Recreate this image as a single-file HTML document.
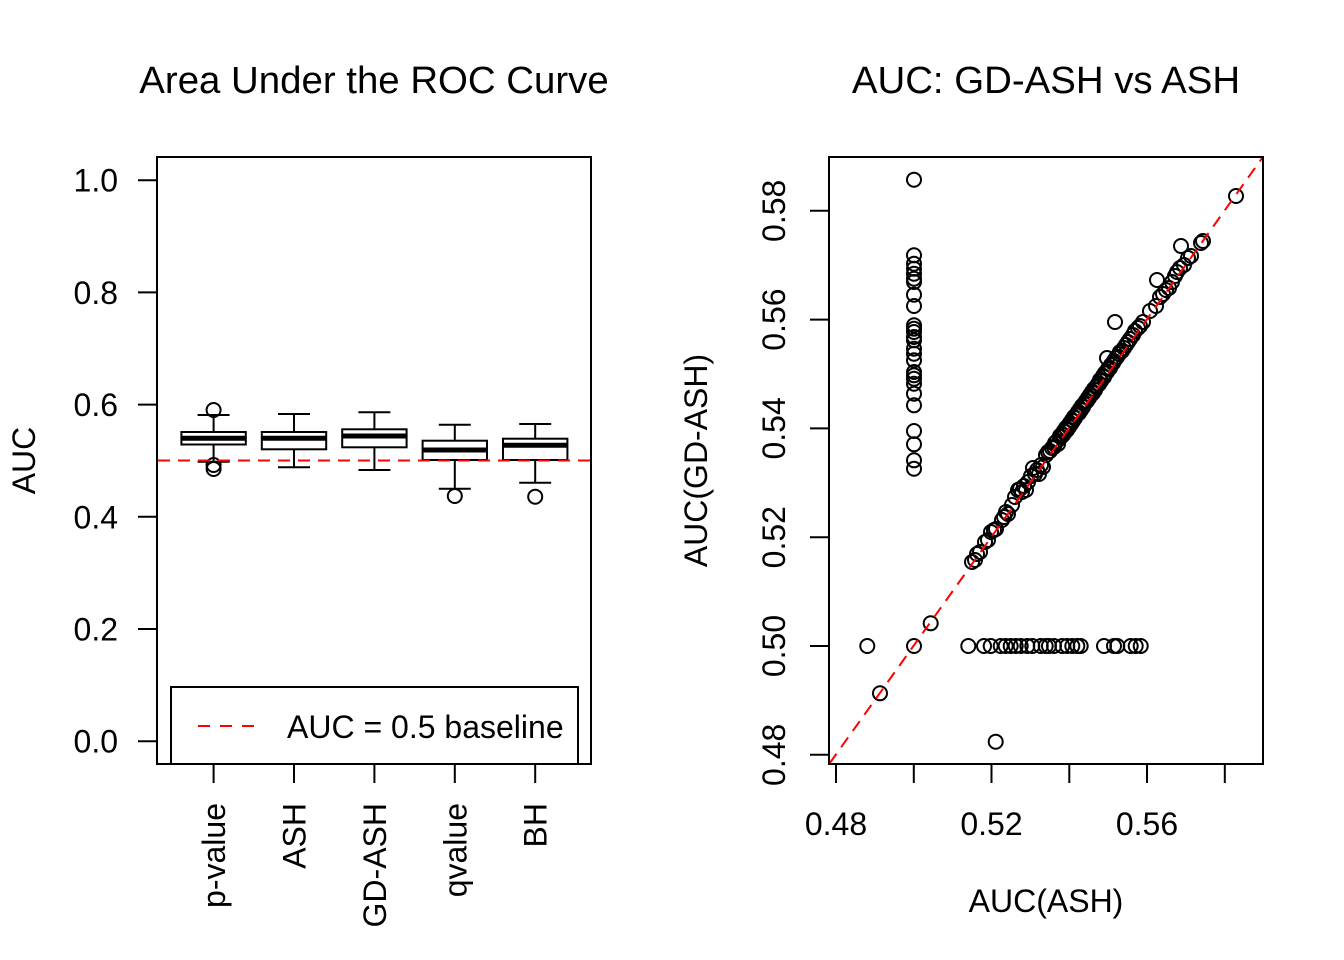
<!DOCTYPE html>
<html>
<head>
<meta charset="utf-8">
<style>
html,body{margin:0;padding:0;background:#fff;}
svg{display:block;}
text{font-family:"Liberation Sans",Arial,Helvetica,sans-serif;fill:#000;}
</style>
</head>
<body>
<svg width="1344" height="960" viewBox="0 0 1344 960" xmlns="http://www.w3.org/2000/svg">
<defs>
<marker id="m" markerWidth="20" markerHeight="20" refX="10" refY="10" markerUnits="userSpaceOnUse" overflow="visible">
<circle cx="10" cy="10" r="7" fill="none" stroke="#000" stroke-width="2"/>
</marker>
</defs>
<rect x="0" y="0" width="1344" height="960" fill="#fff"/>

<text x="374" y="93" font-size="38.4" text-anchor="middle">Area Under the ROC Curve</text>

<path d="M157 180.2V741.2M138 180.2H157M138 292.4H157M138 404.6H157M138 516.8H157M138 629H157M138 741.2H157" stroke="#000" stroke-width="2" fill="none"/>
<g font-size="32" text-anchor="end">
<text x="118" y="191.7">1.0</text>
<text x="118" y="303.9">0.8</text>
<text x="118" y="416.1">0.6</text>
<text x="118" y="528.3">0.4</text>
<text x="118" y="640.5">0.2</text>
<text x="118" y="752.7">0.0</text>
</g>
<text transform="translate(35,460.5) rotate(-90)" font-size="32" text-anchor="middle">AUC</text>

<path d="M213.6 764H535.2M213.6 764V783M294 764V783M374.4 764V783M454.8 764V783M535.2 764V783" stroke="#000" stroke-width="2" fill="none"/>
<g font-size="32" text-anchor="end">
<text transform="translate(225,803) rotate(-90)">p-value</text>
<text transform="translate(305.5,803) rotate(-90)">ASH</text>
<text transform="translate(386,803) rotate(-90)">GD-ASH</text>
<text transform="translate(466.3,803) rotate(-90)">qvalue</text>
<text transform="translate(546.7,803) rotate(-90)">BH</text>
</g>

<!-- whiskers and caps -->
<path d="M213.6 415V432M213.6 444.5V461.7M197.6 415H229.6M197.6 461.7H229.6
M294 414V432M294 449.3V467.3M278 414H310M278 467.3H310
M374.4 412.3V429.3M374.4 447.3V470M358.4 412.3H390.4M358.4 470H390.4
M454.8 424.7V440.7M454.8 460V488.7M438.8 424.7H470.8M438.8 488.7H470.8
M535.2 424V438.7M535.2 460V482.7M519.2 424H551.2M519.2 482.7H551.2" stroke="#000" stroke-width="2" fill="none"/>
<!-- boxes -->
<g stroke="#000" stroke-width="2" fill="#fff">
<rect x="181.4" y="432" width="64.4" height="12.5"/>
<rect x="261.8" y="432" width="64.4" height="17.3"/>
<rect x="342.2" y="429.3" width="64.4" height="18"/>
<rect x="422.6" y="440.7" width="64.4" height="19.3"/>
<rect x="503" y="438.7" width="64.4" height="21.3"/>
</g>
<!-- medians -->
<path d="M181.4 438.3H245.8M261.8 438.3H326.2M342.2 436H406.6M422.6 450H487M503 445.3H567.4" stroke="#000" stroke-width="5" fill="none"/>
<!-- outliers -->
<polyline fill="none" stroke="none" marker-start="url(#m)" marker-mid="url(#m)" marker-end="url(#m)" points="213.6,410 213.6,465 213.6,469 454.8,496 535.2,496.7"/>

<line x1="158" y1="460.5" x2="591" y2="460.5" stroke="#f00" stroke-width="2" stroke-dasharray="12,8"/>

<rect x="171" y="687" width="407" height="77" fill="#fff" stroke="#000" stroke-width="2"/>
<line x1="198" y1="726" x2="255" y2="726" stroke="#f00" stroke-width="2" stroke-dasharray="12,10"/>
<text x="287" y="738" font-size="32">AUC = 0.5 baseline</text>

<rect x="157" y="157" width="434" height="607" fill="none" stroke="#000" stroke-width="2"/>

<!-- right plot -->
<text x="1046" y="93" font-size="38.4" text-anchor="middle">AUC: GD-ASH vs ASH</text>

<path d="M836 764H1225M836 764V783M913.8 764V783M991.5 764V783M1069.3 764V783M1147 764V783M1224.8 764V783
M829 210.8V754.8M810 754.8H829M810 646H829M810 537.2H829M810 428.4H829M810 319.6H829M810 210.8H829" stroke="#000" stroke-width="2" fill="none"/>
<g font-size="32" text-anchor="middle">
<text x="836" y="835">0.48</text>
<text x="991.5" y="835">0.52</text>
<text x="1147" y="835">0.56</text>
<text x="1046" y="912">AUC(ASH)</text>
<text transform="translate(785,754.8) rotate(-90)">0.48</text>
<text transform="translate(785,646) rotate(-90)">0.50</text>
<text transform="translate(785,537.2) rotate(-90)">0.52</text>
<text transform="translate(785,428.4) rotate(-90)">0.54</text>
<text transform="translate(785,319.6) rotate(-90)">0.56</text>
<text transform="translate(785,210.8) rotate(-90)">0.58</text>
<text transform="translate(707,460.5) rotate(-90)">AUC(GD-ASH)</text>
</g>

<!-- column at ASH = 0.50 -->
<polyline fill="none" stroke="none" marker-start="url(#m)" marker-mid="url(#m)" marker-end="url(#m)"
points="914,179.7 914,255.3 914,263.7 914,268.7 914,273.7 914,278.7 914,282 914,294.7 914,306 914,325.3 914,328.7 914,332 914,337 914,340.3 914,348.7 914,353.7 914,360.3 914,372 914,375.3 914,378.7 914,383.7 914,393.7 914,405.3 914,431 914,444.3 914,460.3 914,468.7"/>

<!-- row at GD-ASH = 0.50 plus misc -->
<polyline fill="none" stroke="none" marker-start="url(#m)" marker-mid="url(#m)" marker-end="url(#m)"
points="867.3,646 914,646 968.3,646 984,646 990.7,646 1000.7,646 1005.7,646 1010.7,646 1015.7,646 1020.7,646 1027.3,646 1032.3,646 1040.7,646 1045.7,646 1049,646 1054,646 1062.3,646 1067.3,646 1072.3,646 1077.3,646 1080.7,646 1104,646 1114,646 1117.3,646 1130.7,646 1135.7,646 1140.7,646 930.7,623.3 880,693.3 995.7,741.7"/>

<!-- diagonal cloud -->
<polyline fill="none" stroke="none" marker-start="url(#m)" marker-mid="url(#m)" marker-end="url(#m)"
points="972,562 975,560 977,554 980,552 985,542 988,540 991,532 994,530 996,529 1002,520 1004,517 1006,512 1008,514 1012,505 1015,497 1018,490 1020,489 1022,492 1024,486 1026,490 1028,482 1031,476 1033,468 1035,474 1037,470 1039,474 1041,465 1043,467 1046,455 1048,452 1050,451 1052,448 1054,447 1055,443 1057,441 1058,444 1060,436 1061,437 1062,434 1063,435 1064,431 1065,432 1066,428 1067,430 1068,426 1069,427 1070,423 1071,424 1072,420 1073,421 1074,417 1075,418 1076,415 1077,414 1078,412 1079,413 1080,409 1081,410 1082,406 1083,407 1084,404 1085,403 1086,401 1087,401 1088,398 1089,398 1090,395 1091,395 1092,392 1093,393 1094,389 1095,390 1096,387 1097,386 1098,384 1099,384 1100,380 1101,381 1103,376 1104,377 1105,373 1107,372 1108,369 1110,368 1111,365 1113,363 1114,361 1116,358 1117,357 1119,354 1120,352 1122,351 1124,348 1126,345 1128,342 1130,339 1133,335 1135,331 1138,328 1140,326 1143,322 1150,311 1156,306 1160,297 1163,294 1166,290 1169,288 1172,282 1175,276 1177,272 1180,268 1184,265 1188,258 1191,256 1201,243 1203,241 1236,196 1107,358 1115,322 1157,280 1181,246"/>

<line x1="829.5" y1="763.5" x2="1262.5" y2="157.5" stroke="#f00" stroke-width="2" stroke-dasharray="12,8"/>

<rect x="829" y="157" width="434" height="607" fill="none" stroke="#000" stroke-width="2"/>
</svg>
</body>
</html>
